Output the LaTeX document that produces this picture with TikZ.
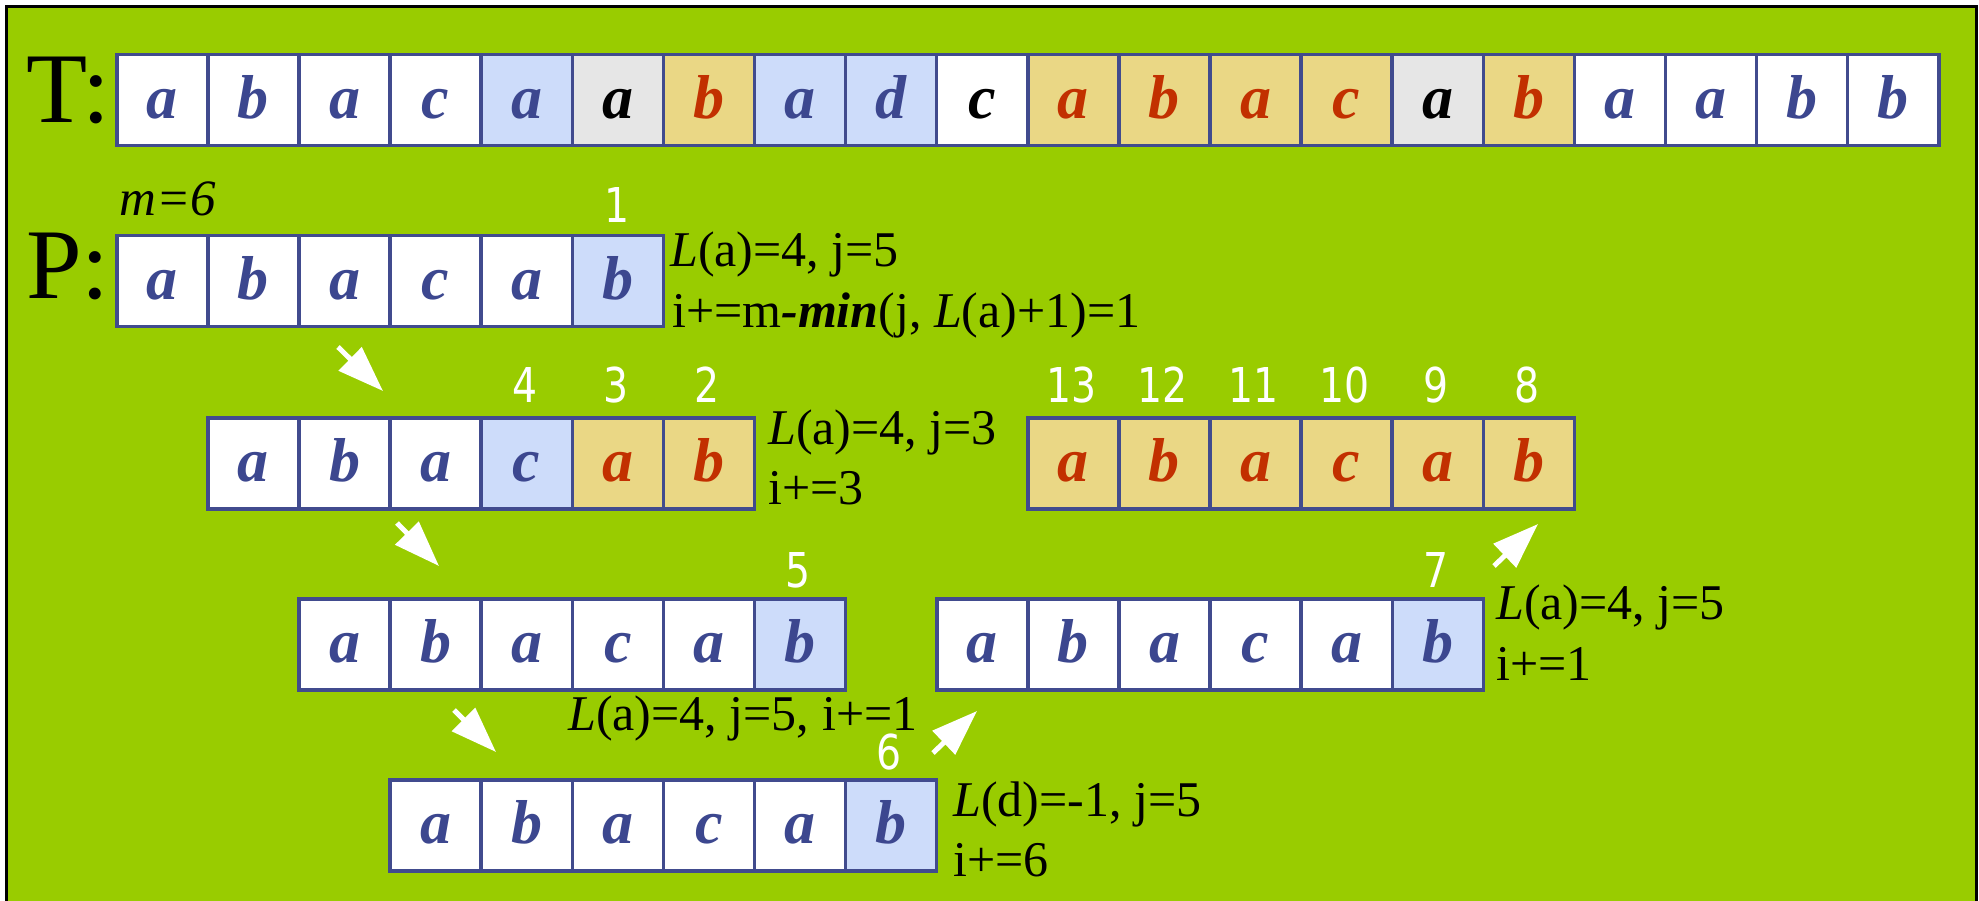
\documentclass[tikz,border=0pt]{standalone}
\usepackage{fontspec}
\setmainfont{Liberation Serif}
\newfontfamily\numfont[FakeStretch=0.82]{DejaVu Sans}
\usetikzlibrary{arrows.meta}
\definecolor{bg}{HTML}{99CC00}
\definecolor{edge}{HTML}{414B8E}
\definecolor{ink}{HTML}{3C478F}
\definecolor{lblue}{HTML}{CDDCFA}
\definecolor{tan}{HTML}{EAD785}
\definecolor{lgray}{HTML}{E6E6E6}
\definecolor{rust}{HTML}{C23000}
\begin{document}
\begin{tikzpicture}[x=1pt,y=-1pt,
  cellbox/.style={draw=edge, line width=3.5pt, minimum width=91.1pt, minimum height=91pt,
    inner sep=0pt, anchor=north west, text height=40pt, text depth=3pt,
    font=\fontsize{62}{62}\selectfont\bfseries\itshape},
  cW/.style={cellbox, fill=white, text=ink},
  cB/.style={cellbox, fill=lblue, text=ink},
  cY/.style={cellbox, fill=tan, text=rust},
  cG/.style={cellbox, fill=lgray, text=black},
  cK/.style={cellbox, fill=white, text=black},
  num/.style={anchor=base, text=white, inner sep=0pt, font=\numfont\fontsize{48}{48}\selectfont},
  note/.style={anchor=base west, inner sep=0pt, font=\fontsize{50}{50}\selectfont},
  big/.style={anchor=base west, inner sep=0pt, font=\fontsize{100}{100}\selectfont},
  hop/.style={draw=white, line width=5pt, -{Triangle[length=46pt,width=32pt]}}
]
\useasboundingbox (0,0) rectangle (1979,901);
\fill[white] (0,0) rectangle (1979,901);
\begin{scope}
\clip (0,0) rectangle (1979,901);
\filldraw[fill=bg, draw=black, line width=3pt] (6.5,6.5) rectangle (1976.5,960);
\end{scope}

% labels T: and P:
\node[big] (Tlab) at (26,123) {T:};
\node[big] (Plab) at (26,299) {P:};
\node[note, font=\fontsize{51}{51}\selectfont\itshape] (mlab) at (119,216) {m=6};

% T row
\foreach \s/\c [count=\i from 0] in {cW/a,cW/b,cW/a,cW/c,cB/a,cG/a,cY/b,cB/a,cB/d,cK/c,cY/a,cY/b,cY/a,cY/c,cG/a,cY/b,cW/a,cW/a,cW/b,cW/b}
  \node[\s] (t\i) at ({115+91.1*\i},53) {\c};

% P row 1
\foreach \s/\c [count=\i from 0] in {cW/a,cW/b,cW/a,cW/c,cW/a,cB/b}
  \node[\s] (p\i) at ({115+91.1*\i},234) {\c};
% row 2
\foreach \s/\c [count=\i from 0] in {cW/a,cW/b,cW/a,cB/c,cY/a,cY/b}
  \node[\s] (q\i) at ({206.1+91.1*\i},416) {\c};
% tan row
\foreach \s/\c [count=\i from 0] in {cY/a,cY/b,cY/a,cY/c,cY/a,cY/b}
  \node[\s] (r\i) at ({1026+91.1*\i},416) {\c};
% row 4 left
\foreach \s/\c [count=\i from 0] in {cW/a,cW/b,cW/a,cW/c,cW/a,cB/b}
  \node[\s] (u\i) at ({297.2+91.1*\i},597) {\c};
% row 4 right
\foreach \s/\c [count=\i from 0] in {cW/a,cW/b,cW/a,cW/c,cW/a,cB/b}
  \node[\s] (v\i) at ({935+91.1*\i},597) {\c};
% row 5
\foreach \s/\c [count=\i from 0] in {cW/a,cW/b,cW/a,cW/c,cW/a,cB/b}
  \node[\s] (w\i) at ({388.3+91.1*\i},778) {\c};

% step numbers
\node[num] (k1) at (617,223) {1};
\node[num] (k4) at (525,402) {4};
\node[num] (k3) at (616,402) {3};
\node[num] (k2) at (707,402) {2};
\node[num] (k13) at (1071.5,402) {13};
\node[num] (k12) at (1162.6,402) {12};
\node[num] (k11) at (1253.7,402) {11};
\node[num] (k10) at (1344.8,402) {10};
\node[num] (k9) at (1435.9,402) {9};
\node[num] (k8) at (1527,402) {8};
\node[num] (k5) at (798,587) {5};
\node[num] (k7) at (1436,587) {7};
\node[num] (k6) at (889,769) {6};

% notes
\node[note] (n1a) at (670,267) {\textit{L}(a)=4, j=5};
\node[note] (n1b) at (672,328) {i+=m\textbf{\textit{-min}}(j, \textit{L}(a)+1)=1};
\node[note] (n2a) at (768,444) {\textit{L}(a)=4, j=3};
\node[note] (n2b) at (768,504) {i+=3};
\node[note] (n4a) at (568,730) {\textit{L}(a)=4, j=5,};
\node[note, anchor=base west] (n4b) at ([xshift=12.5pt]n4a.base east) {i+=1};
\node[note] (n5a) at (1496,619) {\textit{L}(a)=4, j=5};
\node[note] (n5b) at (1496,680) {i+=1};
\node[note] (n6a) at (953,816) {\textit{L}(d)=-1, j=5};
\node[note] (n6b) at (953,876) {i+=6};

% arrows
\coordinate (a1s) at (338,347); \coordinate (a1e) at (383,391);
\coordinate (a2s) at (397,523); \coordinate (a2e) at (439,566);
\coordinate (a3s) at (454,710); \coordinate (a3e) at (496,752);
\coordinate (a4s) at (933,753); \coordinate (a4e) at (977,711);
\coordinate (a5s) at (1494,566); \coordinate (a5e) at (1538,524);
\draw[hop] (a1s) -- (a1e);
\draw[hop] (a2s) -- (a2e);
\draw[hop] (a3s) -- (a3e);
\draw[hop] (a4s) -- (a4e);
\draw[hop] (a5s) -- (a5e);
\end{tikzpicture}
\end{document}
